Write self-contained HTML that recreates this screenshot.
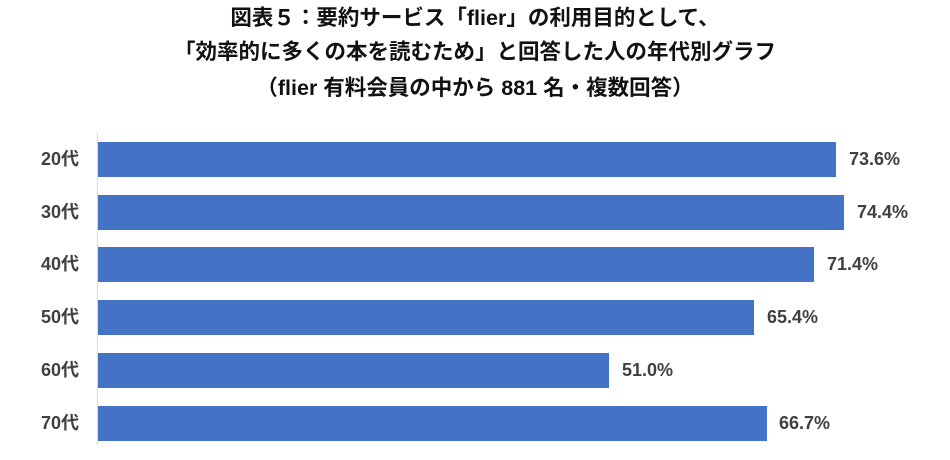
<!DOCTYPE html>
<html><head><meta charset="utf-8"><style>
body{margin:0;width:950px;height:460px;background:#fff;overflow:hidden;position:relative;font-family:"Liberation Sans","Noto Sans CJK JP",sans-serif;}
.t{position:absolute;left:0;width:950px;text-align:center;font-weight:bold;font-size:21.5px;color:#111;line-height:26px;}
.ax{position:absolute;left:97px;top:133px;width:1px;height:312px;background:#d9d9d9;}
.bar{position:absolute;left:98px;height:35px;background:#4472c4;}
.lab{position:absolute;font-weight:bold;font-size:18px;color:#404040;line-height:35px;}
.cat{position:absolute;left:0;width:79px;text-align:right;font-weight:bold;font-size:18px;color:#404040;line-height:35px;}
</style></head><body>
<div class="t" style="top:5px">図表５：要約サービス「flier」の利用目的として、</div>
<div class="t" style="top:39px">「効率的に多くの本を読むため」と回答した人の年代別グラフ</div>
<div class="t" style="top:75px">（flier 有料会員の中から 881 名・複数回答）</div>
<div class="ax"></div>
<div class="cat" style="top:142px">20代</div><div class="bar" style="top:142px;width:738px"></div><div class="lab" style="top:142px;left:849px">73.6%</div>
<div class="cat" style="top:195px">30代</div><div class="bar" style="top:195px;width:746px"></div><div class="lab" style="top:195px;left:857px">74.4%</div>
<div class="cat" style="top:247px">40代</div><div class="bar" style="top:247px;width:716px"></div><div class="lab" style="top:247px;left:827px">71.4%</div>
<div class="cat" style="top:300px">50代</div><div class="bar" style="top:300px;width:656px"></div><div class="lab" style="top:300px;left:767px">65.4%</div>
<div class="cat" style="top:353px">60代</div><div class="bar" style="top:353px;width:511px"></div><div class="lab" style="top:353px;left:622px">51.0%</div>
<div class="cat" style="top:406px">70代</div><div class="bar" style="top:406px;width:669px"></div><div class="lab" style="top:406px;left:779px">66.7%</div>
</body></html>
